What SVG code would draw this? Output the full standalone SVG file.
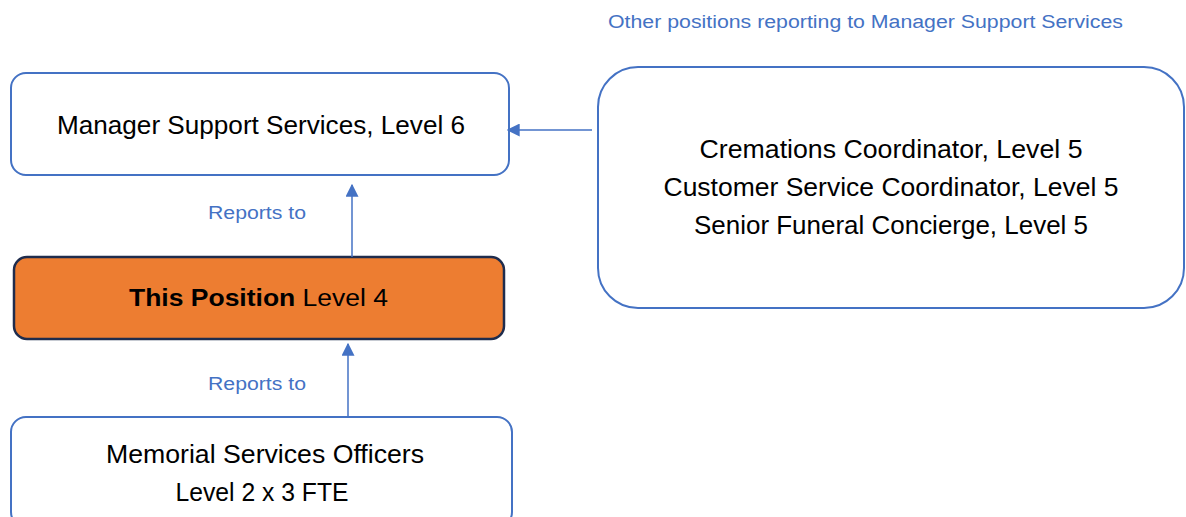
<svg xmlns="http://www.w3.org/2000/svg" width="1186" height="517" viewBox="0 0 1186 517">
  <style>
    .box { fill: #ffffff; stroke: #4472C4; stroke-width: 2; }
    .self { fill: #ED7D31; stroke: #1F2C4D; stroke-width: 2.5; }
    .lbl { font-family: "Liberation Sans", Arial, sans-serif; font-size: 25px; fill: #000000; text-anchor: middle; }
    .head { font-family: "Liberation Sans", Arial, sans-serif; font-size: 23px; fill: #000000; }
    .note { font-family: "Liberation Sans", Arial, sans-serif; font-size: 18px; fill: #4472C4; }
    .link { stroke: #4472C4; stroke-width: 1.5; fill: none; }
  </style>
  <defs>
    <marker id="arrow" viewBox="0 0 10 10" refX="9" refY="5" markerWidth="13" markerHeight="13" markerUnits="userSpaceOnUse" orient="auto">
      <path d="M0,0 L10,5 L0,10 z" fill="#4472C4"/>
    </marker>
  </defs>
  <rect width="1186" height="517" fill="#ffffff"/>

  <text class="note" x="608" y="28" textLength="515" lengthAdjust="spacingAndGlyphs">Other positions reporting to Manager Support Services</text>

  <g id="manager">
    <rect class="box" x="11" y="73" width="498" height="102" rx="15"/>
    <text class="lbl" x="261" y="134" textLength="408" lengthAdjust="spacingAndGlyphs">Manager Support Services, Level 6</text>
  </g>

  <g id="others">
    <rect class="box" x="598" y="67" width="586" height="241" rx="40"/>
    <text class="lbl" x="891" y="158" textLength="383" lengthAdjust="spacingAndGlyphs">Cremations Coordinator, Level 5</text>
    <text class="lbl" x="891" y="196" textLength="455" lengthAdjust="spacingAndGlyphs">Customer Service Coordinator, Level 5</text>
    <text class="lbl" x="891" y="234" textLength="394" lengthAdjust="spacingAndGlyphs">Senior Funeral Concierge, Level 5</text>
  </g>

  <g id="this-position">
    <rect class="self" x="14" y="257" width="490" height="82" rx="13"/>
    <text class="head" x="129" y="306" textLength="259" lengthAdjust="spacingAndGlyphs"><tspan font-weight="bold">This Position</tspan> Level 4</text>
  </g>

  <g id="officers">
    <rect class="box" x="11" y="417" width="501" height="110" rx="15"/>
    <text class="lbl" x="265" y="463" textLength="318" lengthAdjust="spacingAndGlyphs">Memorial Services Officers</text>
    <text class="lbl" x="262" y="501" textLength="173" lengthAdjust="spacingAndGlyphs">Level 2 x 3 FTE</text>
  </g>

  <g id="connectors">
    <line class="link" x1="592" y1="130" x2="508" y2="130" marker-end="url(#arrow)"/>
    <line class="link" x1="352" y1="257" x2="352" y2="185" marker-end="url(#arrow)"/>
    <line class="link" x1="348" y1="416" x2="348" y2="344" marker-end="url(#arrow)"/>
    <text class="note" x="208" y="219" textLength="98" lengthAdjust="spacingAndGlyphs">Reports to</text>
    <text class="note" x="208" y="390" textLength="98" lengthAdjust="spacingAndGlyphs">Reports to</text>
  </g>
</svg>
